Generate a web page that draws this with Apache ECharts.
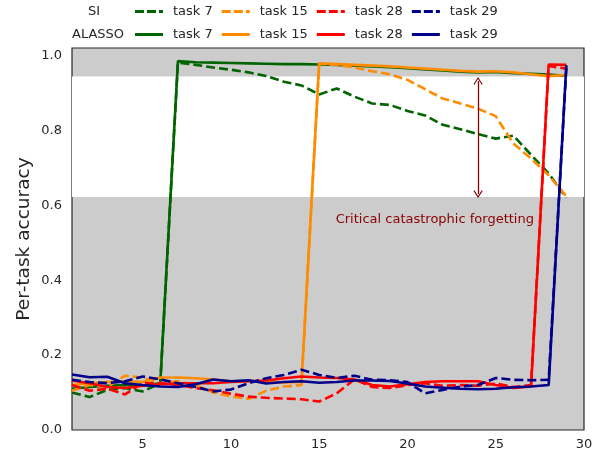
<!DOCTYPE html>
<html>
<head>
<meta charset="utf-8">
<script src="https://cdn.jsdelivr.net/npm/echarts@6/dist/echarts.min.js"></script>
<style>
  html, body { margin: 0; padding: 0; background: #fff; }
  #chart { width: 602px; height: 457px; }
</style>
</head>
<body>
<div id="chart"></div>
<script>
// training step (task index) on the x axis
const steps = [1, 2, 3, 4, 5, 6, 7, 8, 9, 10, 11, 12, 13, 14, 15, 16, 17, 18, 19, 20, 21, 22, 23, 24, 25, 26, 27, 28, 29]

// SI = dashed, ALASSO = solid
const siT7 = [0.100, 0.088, 0.107, 0.112, 0.103, 0.125, 0.981, 0.975, 0.968, 0.962, 0.955, 0.945, 0.930, 0.920, 0.896, 0.912, 0.890, 0.872, 0.868, 0.852, 0.840, 0.815, 0.803, 0.790, 0.778, 0.786, 0.735, 0.685, 0.620]
const alT7 = [0.110, 0.115, 0.118, 0.120, 0.118, 0.125, 0.985, 0.982, 0.981, 0.980, 0.979, 0.978, 0.977, 0.977, 0.976, 0.975, 0.973, 0.971, 0.969, 0.966, 0.963, 0.960, 0.957, 0.955, 0.956, 0.953, 0.951, 0.949, 0.946]
const siT15 = [0.105, 0.120, 0.115, 0.145, 0.140, 0.125, 0.130, 0.120, 0.100, 0.090, 0.083, 0.105, 0.116, 0.120, 0.978, 0.975, 0.968, 0.958, 0.950, 0.935, 0.910, 0.885, 0.872, 0.858, 0.838, 0.765, 0.725, 0.680, 0.624]
const alT15 = [0.120, 0.125, 0.128, 0.130, 0.128, 0.140, 0.140, 0.138, 0.135, 0.130, 0.130, 0.130, 0.127, 0.128, 0.979, 0.977, 0.975, 0.973, 0.971, 0.968, 0.965, 0.962, 0.959, 0.957, 0.958, 0.955, 0.950, 0.945, 0.948]
const siT28 = [0.120, 0.105, 0.110, 0.095, 0.125, 0.125, 0.120, 0.112, 0.106, 0.097, 0.089, 0.086, 0.084, 0.082, 0.076, 0.098, 0.135, 0.115, 0.112, 0.120, 0.125, 0.118, 0.120, 0.118, 0.124, 0.115, 0.120, 0.972, 0.965]
const alT28 = [0.132, 0.125, 0.115, 0.112, 0.118, 0.122, 0.125, 0.125, 0.125, 0.128, 0.130, 0.132, 0.138, 0.143, 0.140, 0.139, 0.135, 0.120, 0.116, 0.122, 0.128, 0.130, 0.130, 0.130, 0.120, 0.112, 0.116, 0.976, 0.975]
const siT29 = [0.134, 0.128, 0.125, 0.130, 0.143, 0.135, 0.125, 0.115, 0.103, 0.108, 0.125, 0.138, 0.147, 0.161, 0.147, 0.139, 0.145, 0.134, 0.133, 0.128, 0.098, 0.107, 0.116, 0.120, 0.139, 0.134, 0.133, 0.134, 0.968]
const alT29 = [0.148, 0.141, 0.142, 0.125, 0.120, 0.116, 0.115, 0.122, 0.135, 0.130, 0.133, 0.124, 0.128, 0.130, 0.126, 0.128, 0.132, 0.132, 0.131, 0.124, 0.116, 0.113, 0.110, 0.109, 0.110, 0.114, 0.116, 0.120, 0.974]

const yTicks = [0, 0.2, 0.4, 0.6, 0.8, 1.0]
const xTicks = [5, 10, 15, 20, 25, 30]

// white band = range that SI loses, arrow marks the drop
const band = [0.622, 0.944]
const arrowX = 24
const arrowY = [0.932, 0.630]
const noteText = 'Critical catastrophic forgetting'

const font = 'DejaVu Sans'
const ink = '#262626'
// legend handles drawn as filled paths (dashed / solid)
const dashIcon = 'path://M0,0h9v3h-9zM12,0h9v3h-9zM24,0h4v3h-4z'
const solidIcon = 'path://M0,0h28v3h-28z'
const arrowHead = 'path://M0,0 L10,9 L8.6,10.4 L0,2.6 L-8.6,10.4 L-10,9 Z'

const lines = [
  { name: 'SI task 7', vals: siT7, color: '#006400', dash: true },
  { name: 'ALASSO task 7', vals: alT7, color: '#006400', dash: false },
  { name: 'SI task 15', vals: siT15, color: '#ff8c00', dash: true },
  { name: 'ALASSO task 15', vals: alT15, color: '#ff8c00', dash: false },
  { name: 'SI task 28', vals: siT28, color: '#ff0000', dash: true },
  { name: 'ALASSO task 28', vals: alT28, color: '#ff0000', dash: false },
  { name: 'SI task 29', vals: siT29, color: '#00008b', dash: true },
  { name: 'ALASSO task 29', vals: alT29, color: '#00008b', dash: false }
]

const chart = echarts.init(document.getElementById('chart'))

const series = [{
  // background band
  type: 'line',
  data: [],
  z: 1,
  silent: true,
  markArea: {
    silent: true,
    itemStyle: { color: '#ffffff', opacity: 1 },
    data: [[{ yAxis: band[0] }, { yAxis: band[1] }]]
  }
}]

lines.forEach(l => {
  series.push({
    name: l.name,
    type: 'line',
    z: 2,
    symbol: 'none',
    data: steps.map((s, i) => [s, l.vals[i]]),
    lineStyle: { color: l.color, width: 2.6, type: l.dash ? [9, 4] : 'solid' },
    itemStyle: { color: l.color }
  })
})

series.push({
  type: 'line',
  data: [],
  z: 3,
  silent: true,
  markLine: {
    silent: true,
    symbol: [arrowHead, arrowHead],
    symbolSize: [9, 8],
    label: { show: false },
    lineStyle: { color: '#8b0000', width: 1.3, type: 'solid' },
    data: [[{ coord: [arrowX, arrowY[0]] }, { coord: [arrowX, arrowY[1]] }]]
  },
  markPoint: {
    silent: true,
    symbol: 'circle',
    symbolSize: 0,
    data: [{ coord: [21.55, 0.563] }],
    label: {
      show: true,
      position: 'inside',
      formatter: noteText,
      color: '#8b0000',
      fontFamily: font,
      fontSize: 13
    }
  }
})

const legendBase = {
  left: 135,
  itemWidth: 28,
  itemHeight: 14,
  itemGap: 9,
  padding: 0,
  textStyle: { color: ink, fontFamily: font, fontSize: 13, padding: [0, 0, 0, 5] },
  formatter: name => name.replace(/^(SI|ALASSO) /, '')
}

chart.setOption({
  animation: false,
  grid: {
    left: 72,
    right: 18,
    top: 48,
    bottom: 27,
    show: true,
    backgroundColor: '#cccccc',
    borderColor: ink,
    borderWidth: 1.2
  },
  legend: [
    Object.assign({}, legendBase, {
      top: 5,
      data: lines.filter(l => l.dash).map(l => ({ name: l.name, icon: dashIcon }))
    }),
    Object.assign({}, legendBase, {
      top: 28,
      data: lines.filter(l => !l.dash).map(l => ({ name: l.name, icon: solidIcon }))
    })
  ],
  graphic: [
    { type: 'text', left: 88, top: 5, style: { text: 'SI', fill: ink, font: '13px "DejaVu Sans"' } },
    { type: 'text', left: 72, top: 28, style: { text: 'ALASSO', fill: ink, font: '13px "DejaVu Sans"' } }
  ],
  xAxis: {
    type: 'value',
    min: 1,
    max: 30,
    interval: 1,
    axisLine: { show: false },
    axisTick: { show: false },
    splitLine: { show: false },
    axisLabel: {
      color: ink,
      fontFamily: font,
      fontSize: 13,
      margin: 8,
      formatter: v => (xTicks.indexOf(v) >= 0 ? String(v) : '')
    }
  },
  yAxis: {
    type: 'value',
    min: 0,
    max: 1.02,
    interval: 0.2,
    name: 'Per-task accuracy',
    nameLocation: 'middle',
    nameGap: 38,
    nameMoveOverlap: false,
    nameTextStyle: { color: ink, fontFamily: font, fontSize: 18.5 },
    axisLine: { show: false },
    axisTick: { show: false },
    splitLine: { show: false },
    axisLabel: {
      color: ink,
      fontFamily: font,
      fontSize: 13,
      margin: 10,
      formatter: v => {
        const t = yTicks.find(y => Math.abs(y - v) < 1e-6)
        return t === undefined ? '' : t.toFixed(1)
      }
    }
  },
  series: series
})
</script>
</body>
</html>
